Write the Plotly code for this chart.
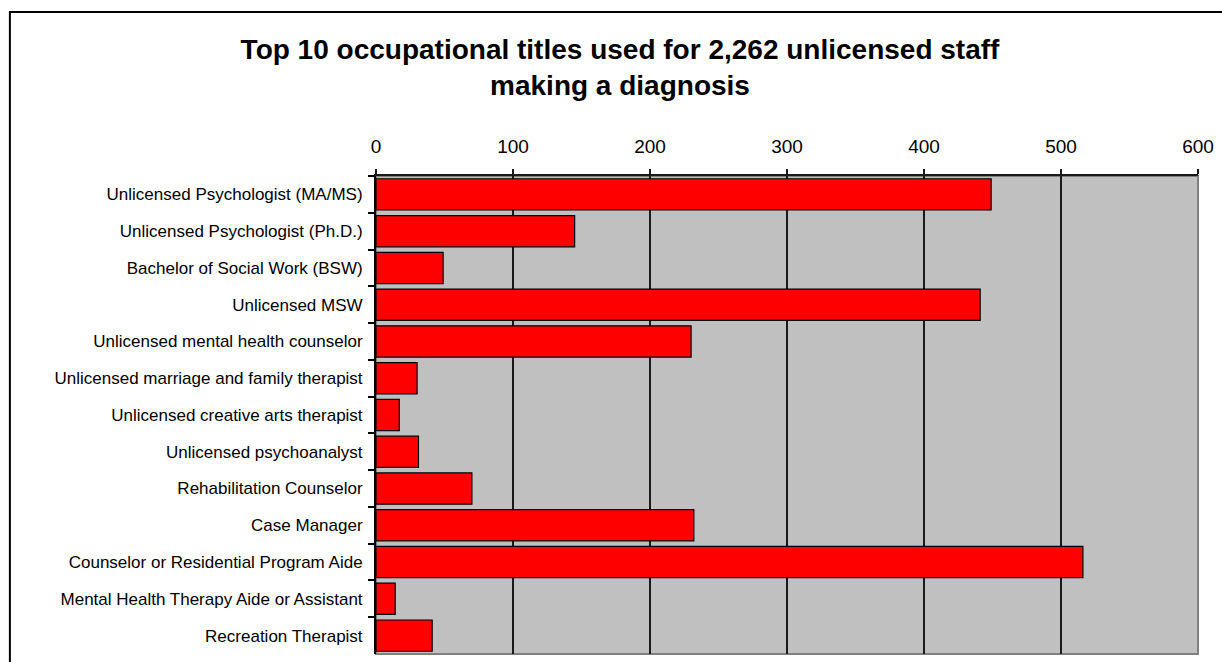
import plotly.graph_objects as go

categories = [
    "Unlicensed Psychologist (MA/MS)",
    "Unlicensed Psychologist (Ph.D.)",
    "Bachelor of Social Work (BSW)",
    "Unlicensed MSW",
    "Unlicensed mental health counselor",
    "Unlicensed marriage and family therapist",
    "Unlicensed creative arts therapist",
    "Unlicensed psychoanalyst",
    "Rehabilitation Counselor",
    "Case Manager",
    "Counselor or Residential Program Aide",
    "Mental Health Therapy Aide or Assistant",
    "Recreation Therapist",
]
values = [449, 145, 49, 441, 230, 30, 17, 31, 70, 232, 516, 14, 41]
x_ticks = [0, 100, 200, 300, 400, 500, 600]
title_lines = ["Top 10 occupational titles used for 2,262 unlicensed staff", "making a diagnosis"]

W, H = 1222, 662
L, R, T, B = 376, 1200, 176, 654

def px(xp):
    return (xp - L) / (R - L)

def py(yp):
    return (B - yp) / (B - T)

fig = go.Figure(go.Bar(
    x=values, y=categories, orientation="h",
    marker=dict(color="#FF0000", line=dict(color="#000000", width=1.2)),
    hoverinfo="x+y",
))

fig.update_layout(
    width=W, height=H,
    margin=dict(l=L, r=W - R, t=T, b=H - B, pad=0),
    paper_bgcolor="white",
    plot_bgcolor="#C0C0C0",
    bargap=0.15,
    showlegend=False,
    font=dict(family="Liberation Sans, Arial, sans-serif", color="black"),
    title=dict(text="<br>".join("<b>" + s + "</b>" for s in title_lines),
               xref="container", yref="container",
               x=620 / W, xanchor="center", y=1 - 59 / H, yanchor="middle",
               font=dict(size=28, family="Liberation Sans, Arial, sans-serif", color="black")),
    xaxis=dict(
        side="top", range=[0, 600], tickvals=x_ticks,
        showgrid=True, gridcolor="#1a1a1a", gridwidth=1.5,
        showline=True, linecolor="#1a1a1a", linewidth=1.5,
        ticks="outside", ticklen=5, tickcolor="#1a1a1a", tickwidth=1.5,
        tickfont=dict(size=19), ticklabelstandoff=9,
        zeroline=False, fixedrange=True,
    ),
    yaxis=dict(
        autorange="reversed", tickson="boundaries",
        showgrid=False, showline=True, linecolor="black", linewidth=2,
        ticks="outside", ticklen=6, tickcolor="black", tickwidth=1.5,
        tickfont=dict(size=17), ticklabelstandoff=8,
        zeroline=False, fixedrange=True,
    ),
    shapes=[
        dict(type="rect", xref="paper", yref="paper", x0=0, x1=1, y0=0, y1=1,
             line=dict(color="#808080", width=2), fillcolor="rgba(0,0,0,0)", layer="below"),
        dict(type="rect", xref="paper", yref="paper",
             x0=px(9), x1=px(1240), y0=py(680), y1=py(12),
             line=dict(color="black", width=2), fillcolor="rgba(0,0,0,0)", layer="above"),
    ],
)

fig.write_html(
    "out.html",
    config={"displayModeBar": False},
    post_script="document.body.style.margin='0';document.body.style.overflow='hidden';",
)
